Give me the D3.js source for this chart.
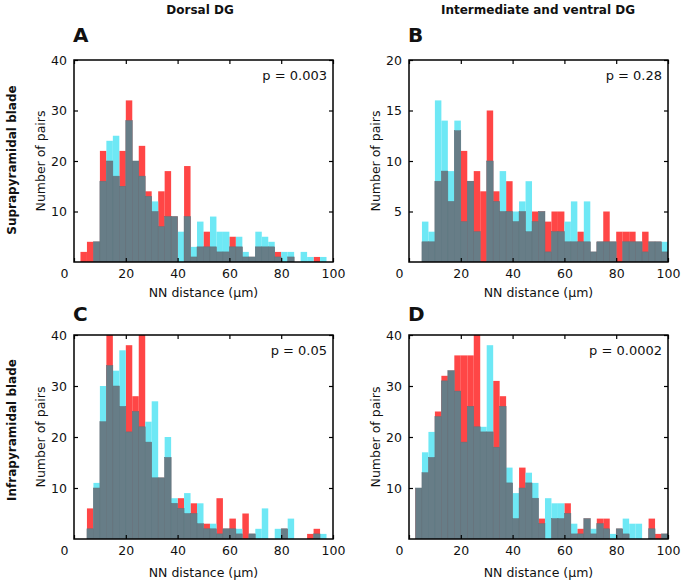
<!DOCTYPE html>
<html><head><meta charset="utf-8">
<script src="https://cdn.jsdelivr.net/npm/d3@7"></script>
<style>body{margin:0;background:#fff} svg{display:block} text{font-family:"DejaVu Sans",Verdana,sans-serif;fill:#111}</style>
</head><body><svg id="c" width="685" height="582"></svg>
<script>
// ---- data ----
const binStarts = d3.range(0, 100, 2.5);   // 2.5 µm bins, 0–100 µm
const binWidth = 2.5;
const xTicks = [0, 20, 40, 60, 80, 100];
const colTitles = ["Dorsal DG", "Intermediate and ventral DG"];
const rowTitles = ["Suprapyramidal blade", "Infrapyramidal blade"];
const panelLetters = ["A", "B", "C", "D"];
const pValues = ["p = 0.003", "p = 0.28", "p = 0.05", "p = 0.0002"];
const yMaxes = [40, 20, 40, 40];
const yTicksA = [10, 20, 30, 40];
const yTicksB = [5, 10, 15, 20];

const redA  = [0,2,4,4,22,20,17,22,32,20,23,14,10,14,18,9,0,19,1,3,6,3,2,2,5,3,1,1,3,3,3,2,0,1,0,0,0,1,0,0];
const cyanA = [0,0,0,4,16,24,25,15,28,20,17,13,12,7,9,9,6,9,3,8,3,9,6,6,3,5,2,1,6,5,4,1,2,2,0,2,1,0,1,0];
const redB  = [0,0,2,2,8,9,6,13,11,8,9,7,15,7,5,8,4,5,3,5,5,4,5,5,2,2,3,2,1,2,5,2,3,3,3,2,3,2,2,1];
const cyanB = [0,0,4,3,16,14,9,14,4,8,3,0,10,6,9,5,5,6,8,4,5,1,3,3,4,6,2,6,1,2,2,2,0,2,2,2,1,2,2,2];
const redC  = [0,0,6,10,23,42,30,26,38,28,42,19,12,12,16,7,8,5,7,3,3,2,8,2,4,1,5,1,0,0,0,0,2,0,0,0,1,2,0,0];
const cyanC = [0,0,2,11,30,34,33,37,21,25,22,23,27,12,20,8,6,9,5,7,2,3,1,2,2,2,0,1,2,6,0,2,2,4,0,0,0,1,1,0];
const redD  = [0,10,13,16,25,32,33,36,36,36,40,21,21,31,28,11,4,14,11,8,4,0,4,4,7,1,2,4,1,4,4,0,2,1,0,0,0,4,1,1];
const cyanD = [0,10,17,21,24,31,33,29,19,26,22,22,38,18,26,14,9,10,13,11,3,8,7,7,5,3,1,4,2,3,2,1,2,4,3,3,0,2,0,1];

// ---- layout ----
const RED = "#ff4646", CYAN = "#6ee8f5", GRAY = "#677d87";
const svg = d3.select("#c");
const panels = [
  {red: redA, cyan: cyanA, yt: yTicksA, x0: 74,  y0: 60,  w: 259, h: 202},
  {red: redB, cyan: cyanB, yt: yTicksB, x0: 409, y0: 60,  w: 259, h: 202},
  {red: redC, cyan: cyanC, yt: yTicksA, x0: 74,  y0: 335, w: 259, h: 204},
  {red: redD, cyan: cyanD, yt: yTicksA, x0: 409, y0: 335, w: 259, h: 204}
];

svg.selectAll("text.col").data(colTitles).join("text")
  .attr("x", (d, i) => i ? 538 : 200).attr("y", 14)
  .attr("text-anchor", "middle").attr("font-weight", "bold").attr("font-size", 12).text(d => d);

svg.selectAll("text.row").data(rowTitles).join("text")
  .attr("transform", (d, i) => `translate(16,${i ? 430 : 160}) rotate(-90)`)
  .attr("text-anchor", "middle").attr("font-weight", "bold").attr("font-size", 12).text(d => d);

panels.forEach((p, k) => {
  const g = svg.append("g").attr("transform", `translate(${p.x0},${p.y0})`);
  const x = d3.scaleLinear().domain([0, 100]).range([0, p.w]);
  const y = d3.scaleLinear().domain([0, yMaxes[k]]).range([p.h, 0]);
  const cid = "clip" + k;
  g.append("clipPath").attr("id", cid).append("rect").attr("width", p.w).attr("height", p.h);
  const bars = g.append("g").attr("clip-path", `url(#${cid})`);
  const bins = binStarts.map((s, i) => ({s, r: p.red[i], c: p.cyan[i]}));
  const bw = d => x(d.s + binWidth) - x(d.s);
  bars.selectAll("rect.r").data(bins).join("rect")
    .attr("x", d => x(d.s)).attr("width", bw)
    .attr("y", d => y(d.r)).attr("height", d => p.h - y(d.r)).attr("fill", RED);
  bars.selectAll("rect.c").data(bins.filter(d => d.c > d.r)).join("rect")
    .attr("x", d => x(d.s)).attr("width", bw)
    .attr("y", d => y(d.c)).attr("height", d => p.h - y(d.c)).attr("fill", CYAN);
  bars.selectAll("rect.g").data(bins).join("rect")
    .attr("x", d => x(d.s)).attr("width", bw)
    .attr("y", d => y(Math.min(d.r, d.c))).attr("height", d => p.h - y(Math.min(d.r, d.c)))
    .attr("fill", GRAY).attr("stroke", "#5e737c").attr("stroke-width", 0.5);

  // axes (inward ticks)
  const ax = (gen) => gen.tickSizeOuter(0).tickSizeInner(-4);
  const yl = g.append("g").call(ax(d3.axisLeft(y).tickValues(p.yt)).tickPadding(7));
  g.append("g").attr("transform", `translate(${p.w},0)`).call(ax(d3.axisRight(y).tickValues(p.yt)).tickFormat(""));
  g.append("g").call(ax(d3.axisTop(x).tickValues(xTicks)).tickFormat(""));
  const xb = g.append("g").attr("transform", `translate(0,${p.h})`)
    .call(ax(d3.axisBottom(x).tickValues(xTicks)).tickPadding(7));
  [yl, xb].forEach(a => a.selectAll("text").attr("font-size", 12.5).attr("fill", "#111")
    .style("font-family", '"DejaVu Sans",Verdana,sans-serif'));
  xb.selectAll("text").filter(d => d === 0).attr("dx", -10);
  g.selectAll(".domain").remove();
  g.selectAll(".tick line").attr("stroke", "#000").attr("stroke-width", 1.2);
  g.append("rect").attr("width", p.w).attr("height", p.h)
    .attr("fill", "none").attr("stroke", "#000").attr("stroke-width", 1.5);

  g.append("text").attr("x", p.w - 6).attr("y", 20).attr("text-anchor", "end")
    .attr("font-size", 13).text(pValues[k]);
  g.append("text").attr("x", p.w / 2).attr("y", p.h + 35 + (k > 1 ? 3 : 0)).attr("text-anchor", "middle")
    .attr("font-size", 12.5).text("NN distance (µm)");
  g.append("text").attr("transform", `translate(-29,${p.h / 2}) rotate(-90)`)
    .attr("text-anchor", "middle").attr("font-size", 12.5).text("Number of pairs");
  g.append("text").attr("x", -1).attr("y", k > 1 ? -14 : -18)
    .attr("font-weight", "bold").attr("font-size", 20).text(panelLetters[k]);
});
</script></body></html>
